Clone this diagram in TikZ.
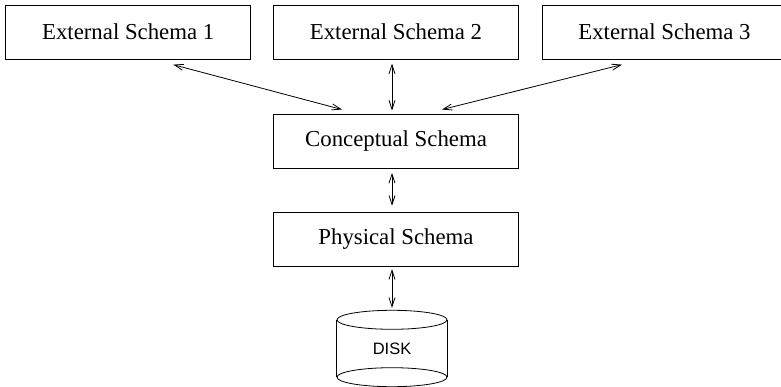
\documentclass[tikz,border=0pt]{standalone}
\usepackage{fontspec}
\setmainfont{Liberation Serif}
\setsansfont{Liberation Sans}
\usetikzlibrary{arrows.meta, positioning}

\begin{document}
\begin{tikzpicture}[
    x=1pt, y=-1pt,
    schemabox/.style={rectangle, draw, line width=0.9pt, minimum width=245pt, minimum height=54pt, inner sep=0pt, align=center, font=\fontsize{22.8}{27}\selectfont},
    diskbox/.style={rectangle, minimum width=110pt, minimum height=76pt, inner sep=0pt, font=\sffamily\fontsize{16.5}{20}\selectfont},
    arrow/.style={{Straight Barb[length=9pt,width=6pt]}-{Straight Barb[length=9pt,width=6pt]}, line width=0.8pt}
]
\useasboundingbox (0,0) rectangle (781,387);

\node[schemabox] (ext1) at (128.2,32.2) {External Schema 1};
\node[schemabox] (ext2) at (396,32.2) {External Schema 2};
\node[schemabox] (ext3) at (664.5,32.2) {External Schema 3};

\node[schemabox] (concept) at (396,141.5) {Conceptual Schema};
\node[schemabox] (physical) at (396,239.2) {Physical Schema};

\node[diskbox] (disk) at (392,348.5) {DISK};
\draw[line width=0.8pt] ([yshift=-9.5pt]disk.north) ellipse [x radius=55pt, y radius=9.5pt];
\draw[line width=0.8pt] ([yshift=9.5pt]disk.south) ellipse [x radius=55pt, y radius=9.5pt];
\draw[line width=0.8pt] ([yshift=-9.5pt]disk.north west) -- ([yshift=9.5pt]disk.south west);
\draw[line width=0.8pt] ([yshift=-9.5pt]disk.north east) -- ([yshift=9.5pt]disk.south east);

\draw[arrow] ([xshift=45pt,yshift=-5pt]ext1.south) -- ([xshift=-54pt,yshift=4.5pt]concept.north);
\draw[arrow, shorten <=4pt, shorten >=3.5pt] ([xshift=-4pt]ext2.south) -- ([xshift=-4pt]concept.north);
\draw[arrow] ([xshift=-42.5pt,yshift=-5pt]ext3.south) -- ([xshift=46pt,yshift=4.5pt]concept.north);
\draw[arrow, shorten <=4pt, shorten >=6pt] ([xshift=-4pt]concept.south) -- ([xshift=-4pt]physical.north);
\draw[arrow, shorten <=2.5pt, shorten >=2.5pt] ([xshift=-4pt]physical.south) -- (disk.north);

\end{tikzpicture}
\end{document}
